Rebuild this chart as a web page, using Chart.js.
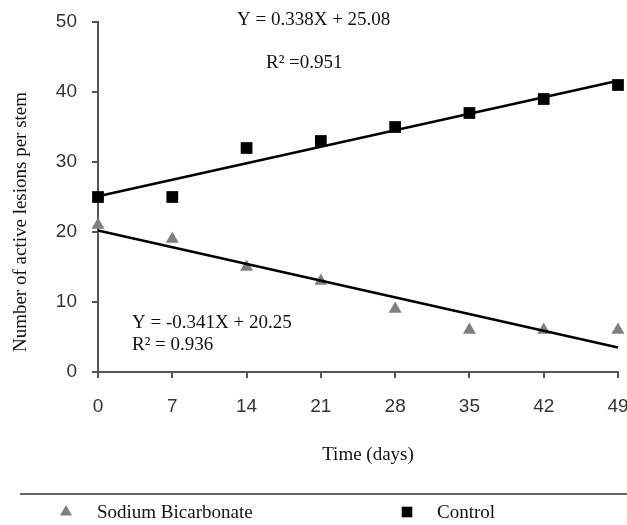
<!DOCTYPE html>
<html>
<head>
<meta charset="utf-8">
<script src="https://cdn.jsdelivr.net/npm/chart.js@4/dist/chart.umd.min.js"></script>
<style>
  html, body { margin: 0; padding: 0; background: #fff; }
  #wrap { width: 627px; height: 525px; position: relative; }
</style>
</head>
<body>
<div id="wrap"><canvas id="c" width="627" height="525"></canvas></div>
<script>
// ---- data ----
const days = [0, 7, 14, 21, 28, 35, 42, 49];
const sodiumValues = [21, 19, 15, 13, 9, 6, 6, 6];
const controlValues = [25, 25, 32, 33, 35, 37, 39, 41];
const fitDays = [0, 49];
const sodiumFit = [20.2, 3.5];
const controlFit = [25.1, 41.6];
const yTicks = [0, 10, 20, 30, 40, 50];
const seriesLabels = ['Sodium Bicarbonate', 'Control'];
const xTitle = 'Time (days)';
const yTitle = 'Number of active lesions per stem';
const controlEq = ['Y = 0.338X + 25.08', 'R\u00B2 =0.951'];
const sodiumEq = ['Y = -0.341X + 20.25', 'R\u00B2 = 0.936'];

const pts = (xs, ys) => xs.map((x, i) => ({ x: x, y: ys[i] }));

const SERIF = '"Liberation Serif", "Times New Roman", serif';
const SANS = '"Liberation Sans", Arial, sans-serif';

const overlay = {
  id: 'overlay',
  afterDraw(chart) {
    const ctx = chart.ctx;
    ctx.save();
    ctx.fillStyle = '#111';
    ctx.font = '19px ' + SERIF;
    ctx.textBaseline = 'alphabetic';
    ctx.textAlign = 'left';
    // equations
    ctx.fillText(controlEq[0], 237, 25);
    ctx.fillText(controlEq[1], 266, 68);
    ctx.fillText(sodiumEq[0], 132, 328);
    ctx.fillText(sodiumEq[1], 132, 350);
    // x title
    ctx.textAlign = 'center';
    ctx.fillText(xTitle, 368, 460);
    // y title
    ctx.save();
    ctx.translate(26, 222);
    ctx.rotate(-Math.PI / 2);
    ctx.textAlign = 'center';
    ctx.fillText(yTitle, 0, 0);
    ctx.restore();
    // legend separator
    ctx.strokeStyle = '#666';
    ctx.lineWidth = 2;
    ctx.beginPath();
    ctx.moveTo(20, 494);
    ctx.lineTo(627, 494);
    ctx.stroke();
    // legend items
    const items = [
      { ds: chart.data.datasets[0], px: 66, tx: 97 },
      { ds: chart.data.datasets[1], px: 407, tx: 437 }
    ];
    items.forEach(it => {
      ctx.fillStyle = it.ds.backgroundColor;
      ctx.strokeStyle = it.ds.backgroundColor;
      Chart.helpers.drawPoint(ctx, {
        pointStyle: it.ds.pointStyle,
        radius: it.ds.pointStyle === 'rect' ? 7.5 : 7,
        rotation: 0,
        borderWidth: 0
      }, it.px, 512);
      ctx.fillStyle = '#111';
      ctx.textAlign = 'left';
      ctx.fillText(it.ds.label, it.tx, 518);
    });
    ctx.restore();
  }
};

new Chart(document.getElementById('c'), {
  type: 'scatter',
  data: {
    datasets: [
      {
        label: seriesLabels[0],
        data: pts(days, sodiumValues),
        pointStyle: 'triangle',
        pointRadius: 7.5,
        pointHoverRadius: 7.5,
        backgroundColor: '#7f7f7f',
        borderColor: '#7f7f7f',
        pointBorderWidth: 0,
        showLine: false,
        clip: false,
        order: 2
      },
      {
        label: seriesLabels[1],
        data: pts(days, controlValues),
        pointStyle: 'rect',
        pointRadius: 8.3,
        pointHoverRadius: 8.3,
        backgroundColor: '#000000',
        borderColor: '#000000',
        pointBorderWidth: 0,
        showLine: false,
        clip: false,
        order: 2
      },
      {
        label: 'Sodium fit',
        data: pts(fitDays, sodiumFit),
        showLine: true,
        borderColor: '#000',
        borderWidth: 2.6,
        pointRadius: 0,
        clip: false,
        order: 1
      },
      {
        label: 'Control fit',
        data: pts(fitDays, controlFit),
        showLine: true,
        borderColor: '#000',
        borderWidth: 2.6,
        pointRadius: 0,
        clip: false,
        order: 1
      }
    ]
  },
  options: {
    responsive: false,
    animation: false,
    events: [],
    layout: { autoPadding: false, padding: { top: 22, right: 9, left: 0, bottom: 0 } },
    plugins: { legend: { display: false }, tooltip: { enabled: false } },
    scales: {
      x: {
        type: 'linear',
        min: days[0],
        max: days[days.length - 1],
        afterBuildTicks(scale) { scale.ticks = days.map(v => ({ value: v })); },
        afterFit(scale) { scale.height = 153; scale.paddingLeft = 0; scale.paddingRight = 0; },
        grid: { drawOnChartArea: false, drawTicks: true, tickLength: 6, color: '#555', lineWidth: 2 },
        border: { display: true, color: '#555', width: 2 },
        ticks: { color: '#333', font: { family: SANS, size: 19 }, padding: 17, maxRotation: 0, autoSkip: false }
      },
      y: {
        type: 'linear',
        min: yTicks[0],
        max: yTicks[yTicks.length - 1],
        afterBuildTicks(scale) { scale.ticks = yTicks.map(v => ({ value: v })); },
        afterFit(scale) { scale.width = 98; scale.paddingTop = 0; scale.paddingBottom = 0; },
        grid: { drawOnChartArea: false, drawTicks: true, tickLength: 6, color: '#555', lineWidth: 2 },
        border: { display: true, color: '#555', width: 2 },
        ticks: { color: '#333', font: { family: SANS, size: 19 }, padding: 15 }
      }
    }
  },
  plugins: [overlay]
});
</script>
</body>
</html>
